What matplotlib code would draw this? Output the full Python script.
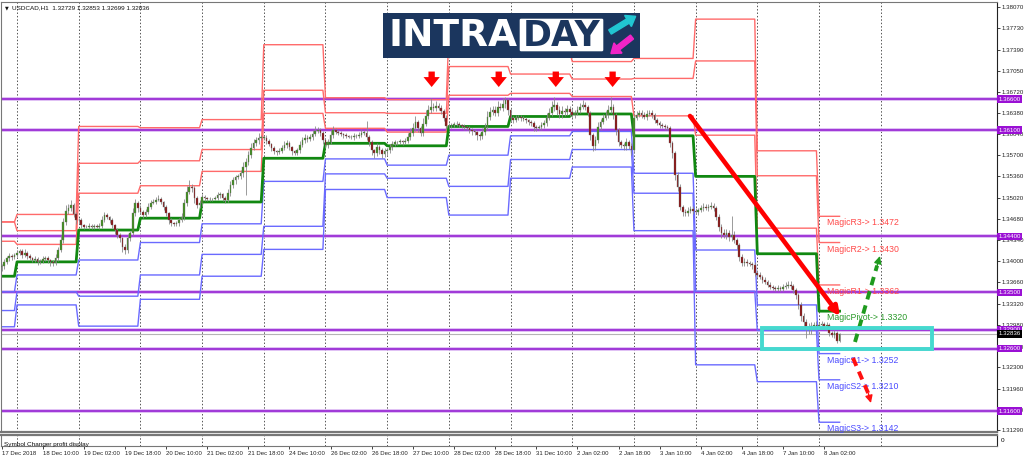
import matplotlib.pyplot as plt
import numpy as np
from matplotlib.patches import Rectangle, FancyBboxPatch, FancyArrow
from matplotlib.transforms import blended_transform_factory

plt.rcParams['font.family'] = ['Liberation Sans', 'DejaVu Sans']

W, H = 1024, 459

# H1 closes, 17 Dec 18:00 -> 8 Jan 08:00 (one row per trading day)
closes = [
    1.3392, 1.3399, 1.3405, 1.3408, 1.3407, 1.3410,
    1.3413, 1.3416, 1.3410, 1.3413, 1.3408, 1.3405, 1.3402, 1.3404, 1.3399, 1.3400, 1.3404, 1.3405,
    1.3402, 1.3399, 1.3397, 1.3405, 1.3418, 1.3434, 1.3463, 1.3481, 1.3485, 1.3490, 1.3476, 1.3466,
    1.3466, 1.3458, 1.3455, 1.3455, 1.3457, 1.3455, 1.3457, 1.3455, 1.3457, 1.3466, 1.3474, 1.3471,
    1.3466, 1.3458, 1.3450, 1.3442, 1.3437, 1.3423, 1.3418, 1.3437, 1.3445, 1.3477, 1.3493, 1.3485,
    1.3479, 1.3474, 1.3479, 1.3487, 1.3493, 1.3495, 1.3498, 1.3500, 1.3495, 1.3487, 1.3477, 1.3466,
    1.3461, 1.3460, 1.3461, 1.3466, 1.3471, 1.3493, 1.3511, 1.3519, 1.3517, 1.3501, 1.3490, 1.3493,
    1.3503, 1.3501, 1.3500, 1.3500, 1.3500, 1.3501, 1.3506, 1.3508, 1.3501, 1.3498, 1.3509, 1.3522,
    1.3530, 1.3535, 1.3537, 1.3541, 1.3551, 1.3559, 1.3570, 1.3582, 1.3590, 1.3594, 1.3598, 1.3598,
    1.3598, 1.3593, 1.3588, 1.3582, 1.3577, 1.3575, 1.3577, 1.3582, 1.3586, 1.3590, 1.3583, 1.3577,
    1.3574, 1.3578, 1.3586, 1.3594, 1.3598, 1.3596, 1.3599, 1.3604, 1.3609, 1.3610, 1.3606, 1.3594,
    1.3586, 1.3591, 1.3602, 1.3610, 1.3607, 1.3606, 1.3604, 1.3602, 1.3601, 1.3599, 1.3599, 1.3601,
    1.3601, 1.3602, 1.3606, 1.3606, 1.3599, 1.3591, 1.3578, 1.3574, 1.3583, 1.3578, 1.3572, 1.3577,
    1.3578, 1.3583, 1.3588, 1.3591, 1.3591, 1.3593, 1.3591, 1.3593, 1.3599, 1.3606, 1.3614, 1.3623,
    1.3614, 1.3606, 1.3620, 1.3633, 1.3642, 1.3647, 1.3646, 1.3649, 1.3646, 1.3641, 1.3630, 1.3617,
    1.3617, 1.3618, 1.3620, 1.3620, 1.3618, 1.3617, 1.3615, 1.3614, 1.3610, 1.3609, 1.3607, 1.3602,
    1.3601, 1.3607, 1.3615, 1.3631, 1.3639, 1.3642, 1.3638, 1.3647, 1.3646, 1.3652, 1.3658, 1.3642,
    1.3630, 1.3626, 1.3630, 1.3631, 1.3630, 1.3628, 1.3626, 1.3623, 1.3622, 1.3615, 1.3614, 1.3615,
    1.3618, 1.3622, 1.3630, 1.3638, 1.3647, 1.3650, 1.3642, 1.3636, 1.3641, 1.3639, 1.3644, 1.3639,
    1.3634, 1.3638, 1.3642, 1.3647, 1.3650, 1.3647, 1.3638, 1.3602, 1.3585, 1.3594, 1.3615, 1.3623,
    1.3630, 1.3634, 1.3642, 1.3647, 1.3634, 1.3610, 1.3591, 1.3586, 1.3585, 1.3591, 1.3585, 1.3578,
    1.3630, 1.3634, 1.3638, 1.3634, 1.3631, 1.3636, 1.3638, 1.3634, 1.3626, 1.3622, 1.3618, 1.3617,
    1.3615, 1.3614, 1.3589, 1.3573, 1.3538, 1.3519, 1.3487, 1.3479, 1.3477, 1.3481, 1.3484, 1.3481,
    1.3479, 1.3482, 1.3485, 1.3487, 1.3485, 1.3487, 1.3489, 1.3485, 1.3471, 1.3455, 1.3445, 1.3442,
    1.3445, 1.3439, 1.3442, 1.3434, 1.3426, 1.3407, 1.3397, 1.3399, 1.3397, 1.3396, 1.3394, 1.3381,
    1.3378, 1.3375, 1.3370, 1.3367, 1.3362, 1.3359, 1.3357, 1.3356, 1.3357, 1.3356, 1.3359, 1.3360,
    1.3362, 1.3360, 1.3354, 1.3346, 1.3330, 1.3312, 1.3303, 1.3295, 1.3291, 1.3296, 1.3298, 1.3296,
    1.3298, 1.3299, 1.3296, 1.3298, 1.3285, 1.3282, 1.3285, 1.32729, 1.32836,
]
first_open = 1.3390

# wick lengths above / below the body, in pips
wick_up = [
    4, 5, 3, 6, 4, 3,
    5, 3, 4, 6, 3, 4, 2, 5, 3, 4, 5, 3, 4, 2, 3, 6, 5, 8, 7, 9, 6, 8, 4, 3,
    4, 3, 2, 3, 4, 2, 3, 2, 4, 6, 5, 3, 2, 3, 2, 4, 3, 2, 5, 6, 4, 9, 7, 4,
    5, 3, 4, 6, 5, 4, 5, 6, 3, 2, 3, 2, 3, 2, 3, 4, 6, 7, 9, 11, 5, 3, 4, 5,
    4, 3, 2, 3, 2, 4, 5, 3, 2, 3, 6, 7, 5, 4, 3, 5, 8, 6, 7, 8, 6, 5, 7, 4,
    5, 4, 3, 2, 3, 2, 4, 5, 6, 5, 3, 2, 2, 4, 6, 5, 6, 4, 5, 6, 8, 5, 4, 3,
    4, 5, 8, 6, 3, 4, 3, 2, 3, 2, 3, 4, 3, 5, 6, 4, 18, 4, 3, 2, 6, 4, 3, 4,
    3, 5, 4, 3, 2, 3, 2, 4, 6, 7, 8, 9, 4, 3, 9, 10, 8, 14, 6, 7, 5, 4, 3, 4,
    5, 4, 3, 4, 3, 2, 3, 2, 3, 4, 3, 2, 3, 6, 7, 9, 8, 7, 6, 9, 6, 10, 5, 4,
    4, 3, 5, 4, 3, 2, 3, 2, 3, 2, 3, 4, 5, 4, 7, 8, 10, 14, 5, 6, 7, 5, 6, 4,
    6, 5, 7, 6, 8, 5, 4, 3, 4, 6, 8, 5, 6, 7, 9, 16, 5, 3, 4, 3, 4, 6, 3, 4,
    8, 6, 5, 4, 5, 6, 5, 4, 3, 4, 3, 4, 3, 4, 3, 4, 3, 5, 4, 3, 5, 6, 5, 4,
    5, 4, 5, 6, 4, 5, 6, 4, 3, 4, 5, 6, 7, 5, 30, 6, 4, 3, 5, 6, 5, 4, 3, 4,
    5, 4, 3, 4, 3, 4, 3, 4, 5, 4, 5, 6, 7, 6, 4, 3, 3, 4, 5, 4, 6, 7, 5, 6,
    5, 6, 4, 5, 3, 4, 5, 3, 1.7,
]
wick_dn = [
    5, 4, 3, 4, 5, 3,
    4, 3, 5, 3, 4, 3, 4, 3, 5, 4, 3, 4, 5, 6, 4, 3, 4, 3, 4, 5, 6, 4, 5, 6,
    5, 4, 3, 2, 3, 4, 3, 2, 3, 4, 3, 4, 5, 4, 6, 5, 6, 8, 7, 5, 4, 3, 5, 6,
    4, 5, 3, 4, 3, 2, 3, 2, 4, 5, 4, 6, 5, 4, 3, 4, 3, 5, 4, 3, 6, 7, 5, 4,
    5, 4, 3, 4, 3, 2, 3, 4, 5, 4, 3, 4, 5, 6, 4, 5, 6, 45, 5, 4, 3, 5, 6, 4,
    4, 5, 4, 6, 5, 4, 3, 4, 3, 4, 5, 6, 4, 3, 4, 3, 4, 5, 3, 4, 3, 4, 5, 6,
    5, 4, 3, 4, 3, 4, 3, 4, 3, 2, 3, 4, 3, 4, 3, 4, 5, 6, 7, 8, 5, 6, 7, 5,
    6, 5, 4, 3, 4, 3, 4, 3, 4, 5, 6, 5, 7, 6, 5, 4, 5, 4, 6, 5, 4, 5, 6, 7,
    5, 4, 3, 4, 3, 4, 5, 4, 5, 6, 5, 7, 6, 5, 4, 5, 4, 5, 6, 5, 4, 5, 6, 8,
    5, 4, 3, 4, 5, 4, 5, 4, 5, 6, 5, 4, 5, 4, 5, 4, 5, 6, 8, 7, 6, 7, 5, 6,
    5, 4, 3, 4, 3, 4, 6, 7, 8, 6, 5, 4, 3, 4, 5, 4, 6, 7, 6, 5, 7, 6, 5, 7,
    5, 4, 3, 4, 3, 4, 3, 4, 5, 4, 5, 4, 5, 4, 6, 7, 8, 6, 5, 6, 4, 5, 4, 5,
    4, 5, 3, 4, 3, 4, 3, 4, 5, 6, 7, 5, 6, 7, 6, 5, 7, 6, 5, 4, 5, 4, 6, 5,
    5, 4, 5, 4, 3, 4, 3, 4, 3, 4, 3, 4, 3, 4, 5, 6, 7, 8, 6, 18, 8, 7, 6, 5,
    4, 5, 4, 6, 5, 4, 5, 4, 3,
]

# bars per trading day: 17 Dec (part), 18..21 Dec, 24, 26, 27, 28, 31 Dec, 2, 3, 4, 7 Jan, 8 Jan (part)
day_len = [6] + [24] * 13 + [9]

# daily "Magic" pivot levels
lvl_r3 = [1.3463, 1.3475, 1.3616, 1.3614, 1.3627, 1.3747, 1.3662, 1.3659, 1.3763, 1.3737, 1.3720, 1.3725, 1.3788, 1.3577, 1.3472]
lvl_r2 = [1.3463, 1.3449, 1.3557, 1.3561, 1.3579, 1.3674, 1.3638, 1.3637, 1.3712, 1.3700, 1.3692, 1.3693, 1.3721, 1.3537, 1.3430]
lvl_r1 = [1.3432, 1.3427, 1.3509, 1.3521, 1.3544, 1.3637, 1.3613, 1.3607, 1.3666, 1.3669, 1.3664, 1.3633, 1.3602, 1.3453, 1.3362]
lvl_p = [1.3376, 1.3399, 1.3450, 1.3469, 1.3495, 1.3565, 1.3589, 1.3585, 1.3616, 1.3632, 1.3636, 1.3601, 1.3536, 1.3412, 1.3320]
lvl_s1 = [1.3351, 1.3378, 1.3402, 1.3430, 1.3460, 1.3528, 1.3564, 1.3554, 1.3570, 1.3601, 1.3608, 1.3541, 1.3418, 1.3330, 1.3252]
lvl_s2 = [1.3321, 1.3351, 1.3344, 1.3378, 1.3411, 1.3456, 1.3540, 1.3533, 1.3520, 1.3563, 1.3579, 1.3509, 1.3352, 1.3289, 1.3210]
lvl_s3 = [1.3295, 1.3330, 1.3296, 1.3339, 1.3376, 1.3419, 1.3515, 1.3502, 1.3474, 1.3533, 1.3551, 1.3449, 1.3234, 1.3207, 1.3142]

# horizontal S/R lines
hlines = [1.3660, 1.3610, 1.3440, 1.3350, 1.3290, 1.3260, 1.3160]
last_price = 1.32836

ytick_labels = ['1.38070', '1.37730', '1.37390', '1.37050', '1.36720', '1.36380', '1.36040',
                '1.35700', '1.35360', '1.35020', '1.34680', '1.34340', '1.34000', '1.33660',
                '1.33320', '1.32980', '1.32630', '1.32300', '1.31960', '1.31620', '1.31290']
xtick_bars = [0, 16, 32, 48, 64, 80, 96, 112, 128, 144, 160, 176, 192, 208, 224, 240, 256, 272, 288, 304, 320]
xtick_labels = ['17 Dec 2018', '18 Dec 10:00', '19 Dec 02:00', '19 Dec 18:00', '20 Dec 10:00',
                '21 Dec 02:00', '21 Dec 18:00', '24 Dec 10:00', '26 Dec 02:00', '26 Dec 18:00',
                '27 Dec 10:00', '28 Dec 02:00', '28 Dec 18:00', '31 Dec 10:00', '2 Jan 02:00',
                '2 Jan 18:00', '3 Jan 10:00', '4 Jan 02:00', '4 Jan 18:00', '7 Jan 10:00', '8 Jan 02:00']


def fx(px):
    return px / W


def fy(py):
    return 1 - py / H


fig = plt.figure(figsize=(W / 100, H / 100), dpi=100, facecolor='w')
ax = fig.add_axes([fx(1), fy(432), fx(996), 430 / H])
ax2 = fig.add_axes([fx(1), fy(446), fx(996), 11 / H], sharex=ax)

XMIN, XMAX = -0.23, 387.24
ax.set_xlim(XMIN, XMAX)
ax.set_ylim(1.312635, 1.381545)

# day separators
for k in range(15):
    for a in (ax, ax2):
        a.axvline(6 + 24 * k, color='#555555', lw=0.7, ls=(0, (1.5, 2)), zorder=0)

# S/R lines and last price line
for v in hlines:
    ax.axhline(v, color='#d9b3f2', lw=2.6, zorder=1)
    ax.axhline(v, color='#9b2fd6', lw=1.3, zorder=1)
ax.axhline(last_price, color='#b4b4b4', lw=0.8, zorder=1)

# daily pivot levels
bars = np.arange(len(closes))
for vals, col, lw in [(lvl_r3, '#ff6a6a', 1.0), (lvl_r2, '#ff6a6a', 1.0), (lvl_r1, '#ff6a6a', 1.0),
                      (lvl_s1, '#6a6aff', 1.0), (lvl_s2, '#6a6aff', 1.0), (lvl_s3, '#6a6aff', 1.0),
                      (lvl_p, '#118811', 2.0)]:
    ax.plot(bars, np.repeat(vals, day_len), color=col, lw=lw, zorder=2)

# candles
c = np.array(closes)
o = np.r_[first_open, c[:-1]]
hi = np.maximum(o, c) + np.array(wick_up) * 1e-4
lo = np.minimum(o, c) - np.array(wick_dn) * 1e-4
up = c >= o
ax.vlines(bars, lo, hi, color='#8a8a8a', lw=0.6, zorder=3)
body = np.maximum(np.abs(c - o), 0.00004)
ax.bar(bars, body, bottom=np.minimum(o, c), width=0.65,
       color=np.where(up, '#3e8e1c', '#8b1010'), edgecolor='#707070', lw=0.25, zorder=4)

# labels of today's levels
names = ['MagicR3', 'MagicR2', 'MagicR1', 'MagicPivot', 'MagicS1', 'MagicS2', 'MagicS3']
today = [lvl_r3[-1], lvl_r2[-1], lvl_r1[-1], lvl_p[-1], lvl_s1[-1], lvl_s2[-1], lvl_s3[-1]]
cols = ['#ff4a4a'] * 3 + ['#2a9a2a'] + ['#4a4aff'] * 3
for n, v, col in zip(names, today, cols):
    ax.annotate(f'{n}-> {v:.4f}', xy=(321.1, v), xytext=(0, -1.5), textcoords='offset points',
                ha='left', va='top', fontsize=6.3, color=col, zorder=6)

# red arrows over the highs
for b in [167.3, 193.4, 215.6, 237.7]:
    ax.annotate('', xy=(b, 1.36792), xytext=(b, 1.37040),
                arrowprops=dict(arrowstyle='simple,head_length=0.55,head_width=0.9,tail_width=0.35',
                                fc='#ff0000', ec='none', mutation_scale=13, shrinkA=0, shrinkB=0),
                zorder=6)

# big trend arrow
ax.annotate('', xy=(326.2, 1.33122), xytext=(267.8, 1.36328),
            arrowprops=dict(arrowstyle='-|>', color='#ff0000', lw=3.3, mutation_scale=13,
                            shrinkA=0, shrinkB=0), zorder=7)

# dashed scenario arrows
ax.plot([332.0, 340.6], [1.32706, 1.33930], color='#1e9a1e', lw=2.8, dashes=(2.2, 1.6), zorder=7)
ax.annotate('', xy=(341.7, 1.34084), xytext=(340.4, 1.33900),
            arrowprops=dict(arrowstyle='-|>', color='#1e9a1e', lw=1, mutation_scale=11,
                            shrinkA=0, shrinkB=0), zorder=7)
ax.plot([331.2, 337.4], [1.32449, 1.31860], color='#ff1010', lw=2.8, dashes=(2.2, 1.6), zorder=7)
ax.annotate('', xy=(338.2, 1.31728), xytext=(337.2, 1.31880),
            arrowprops=dict(arrowstyle='-|>', color='#ff1010', lw=1, mutation_scale=11,
                            shrinkA=0, shrinkB=0), zorder=7)

# zone box
ax.add_patch(Rectangle((295.8, 1.32594), 66.1, 0.00336, fill=False, ec='#45d9cf', lw=2.8, zorder=8))

# axes styling
for s in ['left', 'top', 'bottom']:
    ax.spines[s].set_color('#777777')
ax.spines['bottom'].set_linewidth(1.6)
ax.spines['right'].set_color('#222222')
ax.yaxis.tick_right()
ax.set_yticks([float(t) for t in ytick_labels])
ax.set_yticklabels(ytick_labels)
ax.tick_params(axis='y', length=2, width=0.6, labelsize=4.4, pad=1, colors='#222222')
ax.tick_params(axis='x', bottom=False, labelbottom=False)

ytr = blended_transform_factory(ax.transAxes, ax.transData)
for v in hlines:
    ax.text(1.0015, v, f'{v:.5f}', transform=ytr, ha='left', va='center', fontsize=4.4, color='w',
            bbox=dict(boxstyle='square,pad=0.2', fc='#9a10d4', ec='none'), clip_on=False, zorder=10)
ax.text(1.0015, last_price, f'{last_price:.5f}', transform=ytr, ha='left', va='center', fontsize=4.4,
        color='w', bbox=dict(boxstyle='square,pad=0.2', fc='#000000', ec='none'), clip_on=False, zorder=11)

ax.text(0.004, 1 - 6 / 430, '\u25bc', transform=ax.transAxes, fontsize=3.5,
        va='center', ha='left', color='#111111', family=['DejaVu Sans'])
ax.text(0.011, 1 - 6 / 430, 'USDCAD,H1  1.32729 1.32853 1.32699 1.32836', transform=ax.transAxes,
        fontsize=4.6, va='center', ha='left', color='#111111')

# sub window
ax2.set_ylim(-1, 1)
ax2.yaxis.tick_right()
ax2.set_yticks([0])
ax2.set_yticklabels(['0'])
ax2.tick_params(axis='y', length=0, labelsize=4.6, pad=3)
ax2.set_xticks(xtick_bars)
ax2.set_xticklabels(xtick_labels)
for lbl in ax2.get_xticklabels():
    lbl.set_ha('left')
ax2.tick_params(axis='x', length=2, width=0.6, labelsize=4.3, pad=1.5, colors='#222222')
for s in ['left', 'bottom', 'top']:
    ax2.spines[s].set_color('#777777')
ax2.spines['top'].set_linewidth(1.6)
ax2.spines['right'].set_color('#222222')
ax2.text(0.003, 0.1, 'Symbol Changer profit display', transform=ax2.transAxes, fontsize=4.6,
         va='center', ha='left', color='#111111')

# INTRADAY logo
lg = fig.add_axes([fx(383), fy(58), fx(257), 45 / H])
lg.set_xlim(0, 257)
lg.set_ylim(45, 0)
lg.axis('off')
lg.add_patch(Rectangle((0, 0), 257, 45, color='#1b365e'))
lg.text(6, 23.5, 'INTRA', color='w', fontsize=27, fontweight='bold', family=['DejaVu Sans'],
        ha='left', va='center')
lg.add_patch(FancyBboxPatch((136, 5), 85, 34, boxstyle='round,pad=0,rounding_size=2',
                            fc='w', ec='#1b365e', lw=1))
lg.text(178.5, 23.5, 'DAY', color='#1b365e', fontsize=25, fontweight='bold', family=['DejaVu Sans'],
        ha='center', va='center')
lg.add_patch(FancyArrow(227, 19, 18, -11, width=5, head_width=13, head_length=9,
                        length_includes_head=False, color='#21c6d2'))
lg.add_patch(FancyArrow(249, 24, -14, 11, width=5, head_width=13, head_length=9,
                        length_includes_head=False, color='#f024c6'))

fig.savefig('out.png', dpi=100)
